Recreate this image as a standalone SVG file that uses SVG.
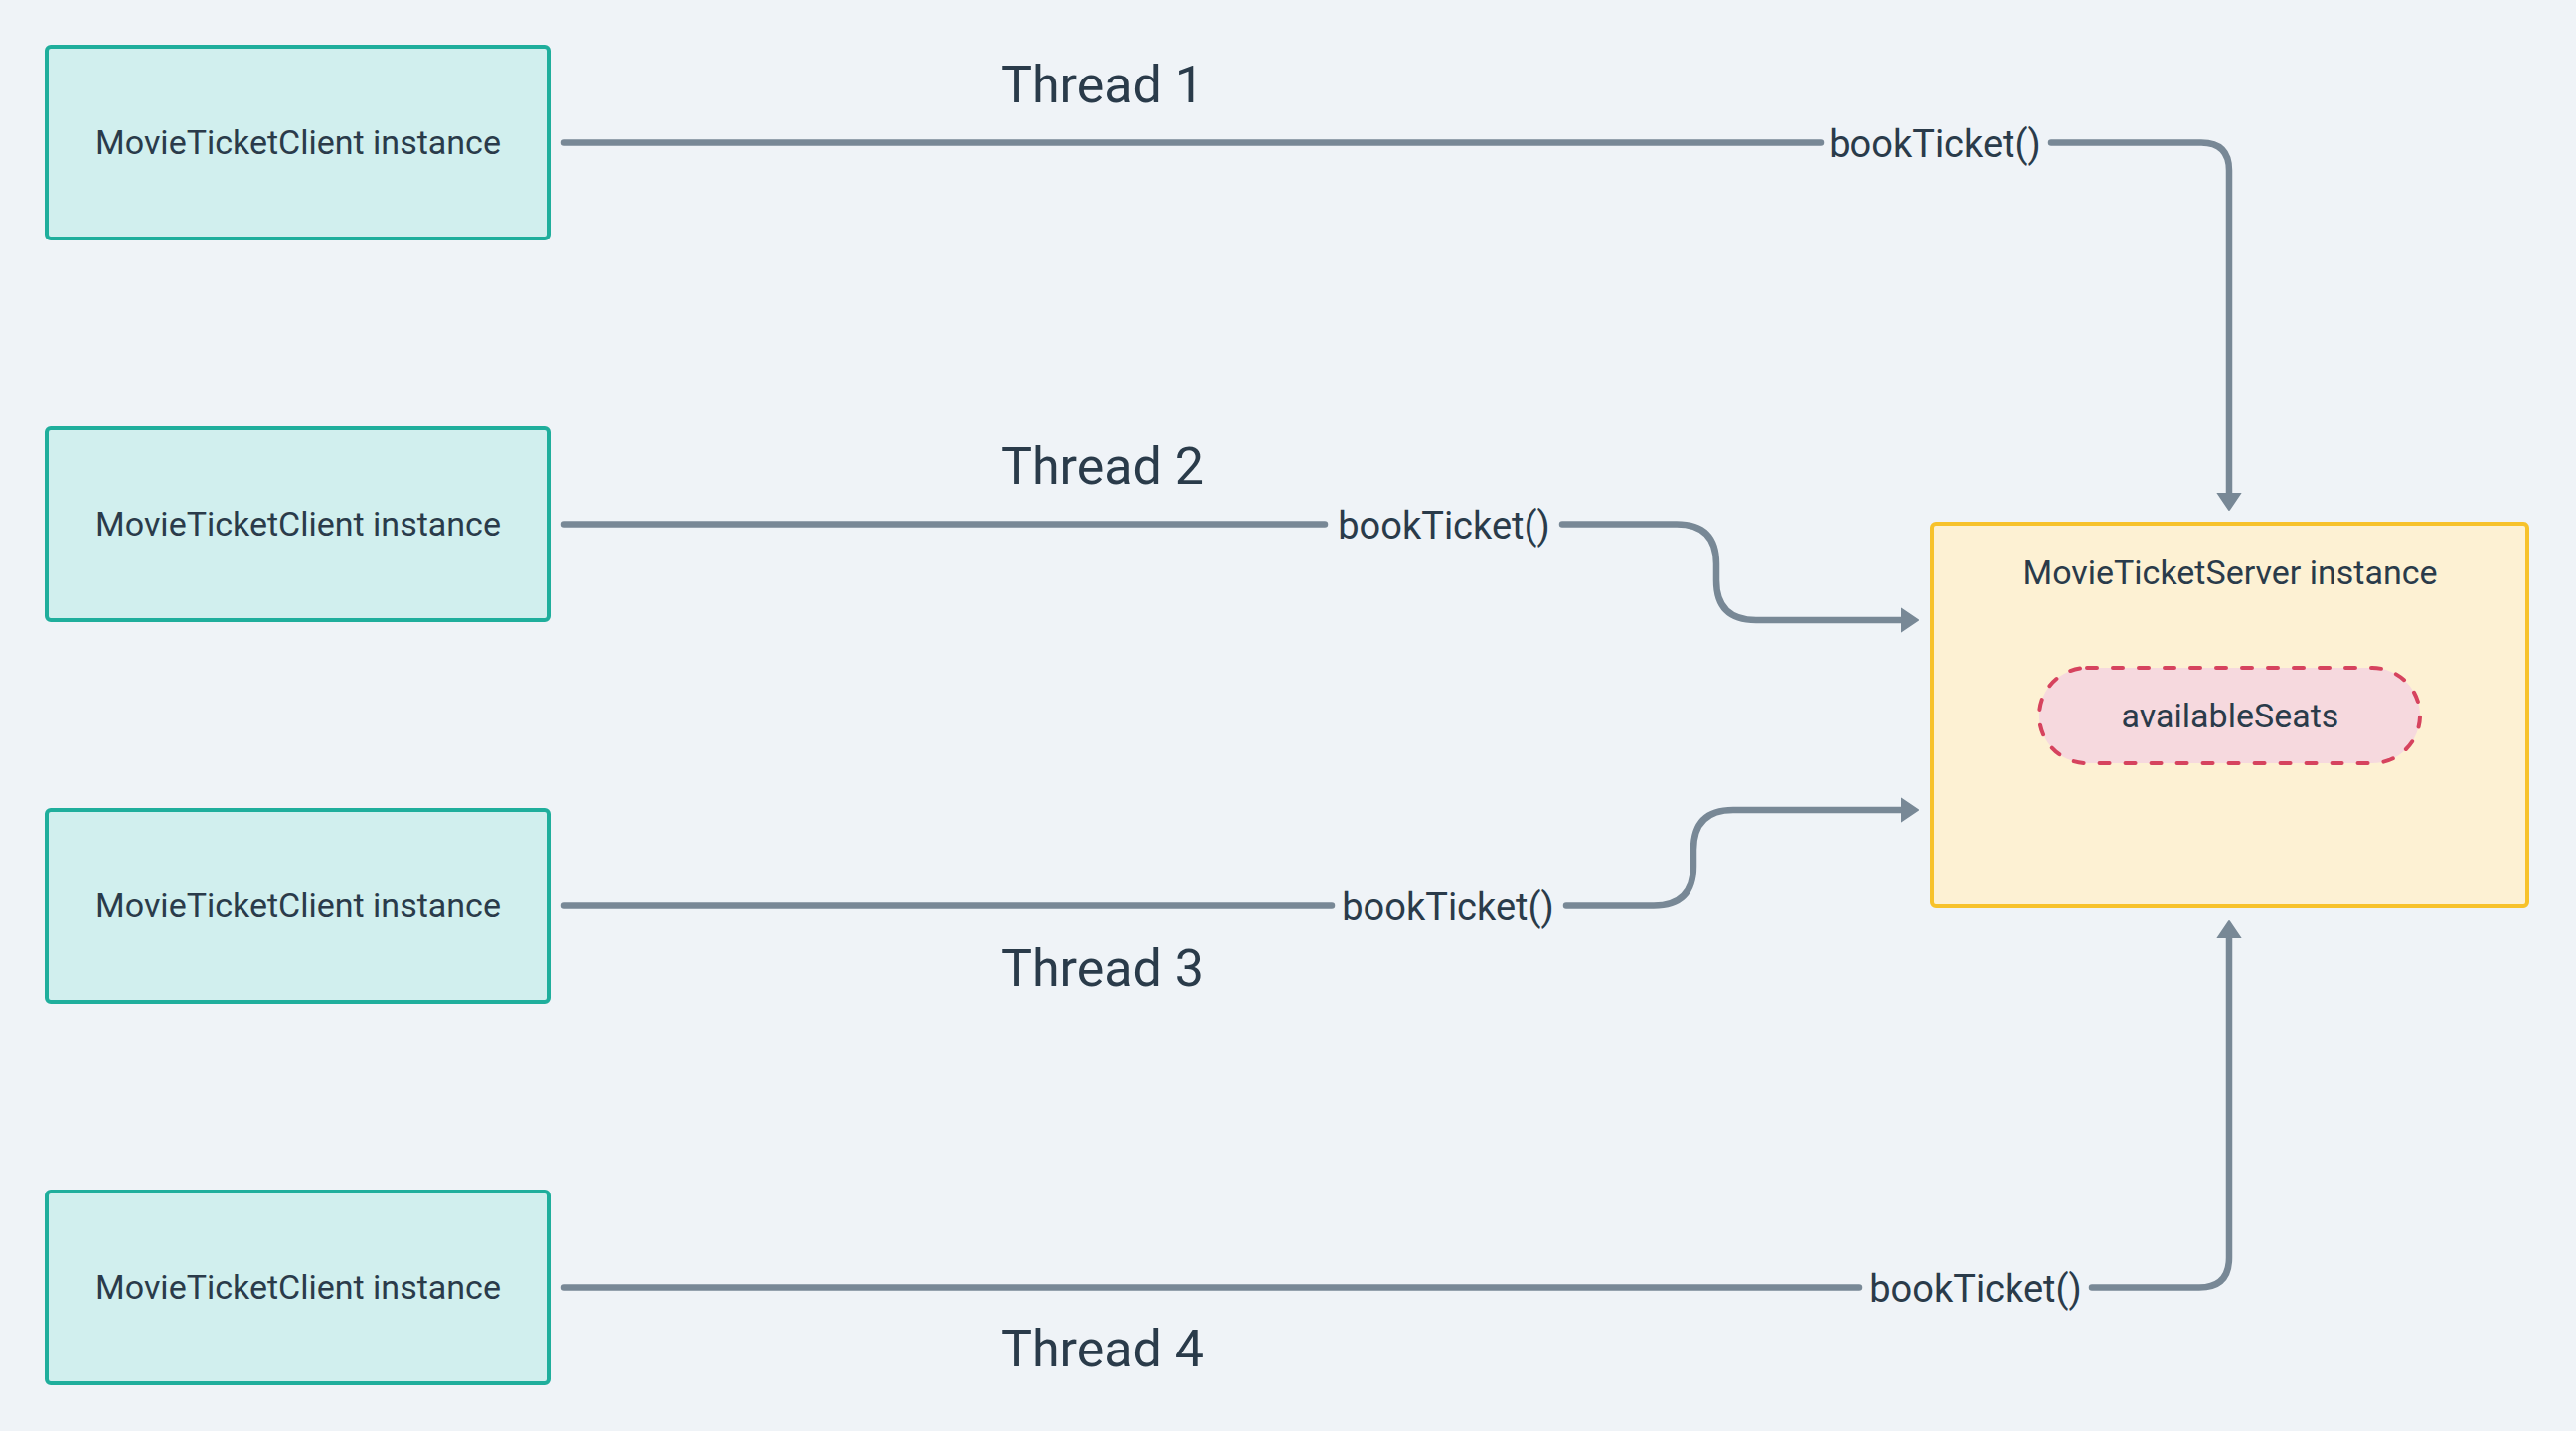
<svg xmlns="http://www.w3.org/2000/svg" width="2592" height="1440" viewBox="0 0 2592 1440">
  <style>
    .bg { fill: #eff3f7; }
    .client rect { fill: #d1efee; stroke: #1fae9c; stroke-width: 4; }
    .lbl { font-family: Roboto, "Noto Sans", "Liberation Sans", sans-serif; fill: #2a3b4a; text-anchor: middle; }
    .node-text { font-size: 34px; }
    .thread { font-size: 52px; }
    .call { font-size: 38px; }
    .conn { fill: none; stroke: #788896; stroke-width: 6.5; stroke-linecap: round; stroke-linejoin: round; }
    .server rect { fill: #fdf1d3; stroke: #f7c22b; stroke-width: 4; }
    .pill { fill: #f6d9de; stroke: #d6435e; stroke-width: 4; stroke-dasharray: 10 16; stroke-linecap: round; }
  </style>
  <defs>
    <marker id="arrow" markerUnits="userSpaceOnUse" viewBox="0 -14 20 28" refX="0" refY="0" markerWidth="20" markerHeight="28" orient="auto">
      <path d="M0,-11.5 L17,0 L0,11.5 Z" fill="#788896" stroke="#788896" stroke-width="2" stroke-linejoin="round"/>
    </marker>
  </defs>
  <rect class="bg" x="0" y="0" width="2592" height="1440"/>

  <g id="connectors">
    <path class="conn" d="M567,143.5 H1832 M2064,143.5 H2215 Q2243,143.5 2243,171.5 V496" marker-end="url(#arrow)"/>
    <path class="conn" d="M567,527.5 H1333 M1572,527.5 H1687 Q1727,527.5 1727,567.5 V584 Q1727,624 1767,624 H1913" marker-end="url(#arrow)"/>
    <path class="conn" d="M567,911.5 H1340 M1576,911.5 H1664 Q1704,911.5 1704,871.5 V855 Q1704,815 1744,815 H1913" marker-end="url(#arrow)"/>
    <path class="conn" d="M567,1295.5 H1871 M2105,1295.5 H2213 Q2243,1295.5 2243,1265.5 V944" marker-end="url(#arrow)"/>
    <text class="lbl call" x="1947" y="158">bookTicket()</text>
    <text class="lbl call" x="1453" y="542">bookTicket()</text>
    <text class="lbl call" x="1457" y="926">bookTicket()</text>
    <text class="lbl call" x="1988" y="1310">bookTicket()</text>
    <text class="lbl thread" x="1109" y="103">Thread 1</text>
    <text class="lbl thread" x="1109" y="487">Thread 2</text>
    <text class="lbl thread" x="1109" y="992">Thread 3</text>
    <text class="lbl thread" x="1109" y="1375">Thread 4</text>
  </g>

  <g id="client1" class="client">
    <rect x="47" y="47" width="505" height="193" rx="4"/>
    <text class="lbl node-text" x="300" y="155">MovieTicketClient instance</text>
  </g>
  <g id="client2" class="client">
    <rect x="47" y="431" width="505" height="193" rx="4"/>
    <text class="lbl node-text" x="300" y="539">MovieTicketClient instance</text>
  </g>
  <g id="client3" class="client">
    <rect x="47" y="815" width="505" height="193" rx="4"/>
    <text class="lbl node-text" x="300" y="923">MovieTicketClient instance</text>
  </g>
  <g id="client4" class="client">
    <rect x="47" y="1199" width="505" height="193" rx="4"/>
    <text class="lbl node-text" x="300" y="1307">MovieTicketClient instance</text>
  </g>

  <g id="server" class="server">
    <rect x="1944" y="527" width="599" height="385" rx="4"/>
    <text class="lbl node-text" x="2244" y="588">MovieTicketServer instance</text>
  </g>
  <g id="availableSeats">
    <rect class="pill" x="2052" y="672" width="383" height="96" rx="48"/>
    <text class="lbl node-text" x="2244" y="732">availableSeats</text>
  </g>
</svg>
